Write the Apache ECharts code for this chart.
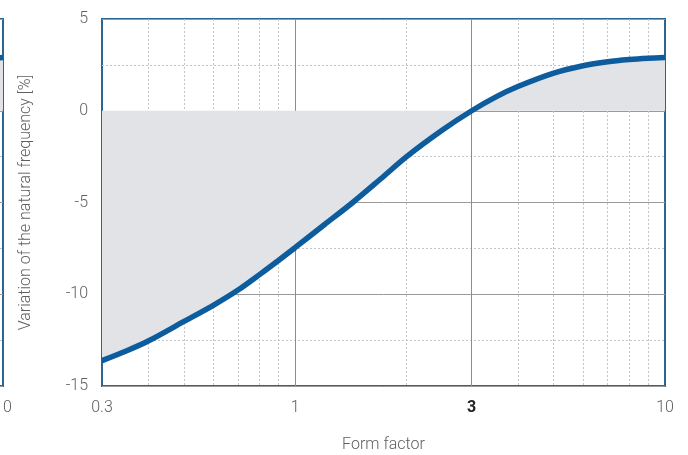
<!DOCTYPE html>
<html>
<head>
<meta charset="utf-8">
<script src="https://cdn.jsdelivr.net/npm/echarts@6/dist/echarts.min.js"></script>
<style>
  html, body { margin: 0; padding: 0; background: #fff; }
  #chart { width: 688px; height: 455px; }
</style>
</head>
<body>
<div id="chart"></div>
<script>
// Form factor (log scale) and the resulting change in natural frequency [%]
const formFactor = [0.3, 0.35, 0.4, 0.5, 0.6, 0.7, 0.8, 0.9, 1, 1.2, 1.43, 1.7, 2, 2.5, 3, 3.5, 4, 5, 6, 7, 8, 9, 10];
const variation = [-13.62, -13.08, -12.55, -11.48, -10.6, -9.77, -8.93, -8.16, -7.45, -6.2, -5.0, -3.72, -2.5, -1.05, 0, 0.77, 1.32, 2.05, 2.45, 2.67, 2.79, 2.86, 2.9];

// Axis ticks
const xLabelTicks = [0.3, 1, 3, 10];
const xMajorGrid = [1, 3];
const xMinorGrid = [0.4, 0.5, 0.6, 0.7, 0.8, 0.9, 2, 4, 5, 6, 7, 8, 9];

const points = formFactor.map((x, i) => [x, variation[i]]);

const FONT = 'Roboto';
const FONT_SIZE = 16;
const TEXT = '#5f5f5f';
const BLUE = '#0d5c9d';
const BORDER = '#2b6692';

function xAxes(gridIndex) {
  return [
    {
      gridIndex, type: 'log', logBase: 10, min: 0.3, max: 10,
      axisLine: { show: false },
      axisTick: { show: false, customValues: xLabelTicks },
      splitLine: { show: false },
      axisLabel: {
        customValues: xLabelTicks, margin: 14, color: TEXT, fontFamily: FONT, fontSize: FONT_SIZE, fontWeight: 300,
        formatter: v => Math.abs(v - 3) < 1e-6 ? '{b|3}' : String(+v.toPrecision(3)),
        rich: { b: { fontWeight: 'bold', color: '#222', fontFamily: FONT, fontSize: FONT_SIZE } }
      },
      name: gridIndex === 0 ? 'Form factor' : '', nameLocation: 'middle', nameGap: 51,
      nameTextStyle: { color: TEXT, fontFamily: FONT, fontSize: FONT_SIZE, fontWeight: 300 }
    },
    {
      gridIndex, type: 'log', logBase: 10, min: 0.3, max: 10,
      axisLine: { show: false },
      axisTick: { show: false, customValues: xMajorGrid },
      axisLabel: { show: false },
      splitLine: { show: true, lineStyle: { color: '#8c8c8c', width: 1 } }
    },
    {
      gridIndex, type: 'log', logBase: 10, min: 0.3, max: 10,
      axisLine: { show: false },
      axisTick: { show: false, customValues: xMinorGrid },
      axisLabel: { show: false },
      splitLine: { show: true, lineStyle: { color: '#c4c4c4', width: 1, type: [2, 2] } }
    }
  ];
}

function yAxis(gridIndex) {
  return {
    gridIndex, type: 'value', min: -15, max: 5, interval: 5,
    axisLine: { show: false },
    axisTick: { show: false },
    axisLabel: { margin: 14, color: TEXT, fontFamily: FONT, fontSize: FONT_SIZE, fontWeight: 300 },
    splitLine: { show: true, lineStyle: { color: '#9a9a9a', width: 1 } },
    minorTick: { show: false, splitNumber: 2 },
    minorSplitLine: { show: true, lineStyle: { color: '#c4c4c4', width: 1, type: [2, 2] } },
    name: gridIndex === 0 ? 'Variation of the natural frequency [%]' : '',
    nameLocation: 'middle', nameGap: 68,
    nameTextStyle: { color: TEXT, fontFamily: FONT, fontSize: FONT_SIZE, fontWeight: 300 }
  };
}

function curve(gridIndex) {
  return {
    type: 'line', xAxisIndex: gridIndex * 3, yAxisIndex: gridIndex,
    data: points, smooth: 0.3, showSymbol: false, z: 5,
    lineStyle: { color: BLUE, width: 5.5 },
    areaStyle: { color: '#e1e3e6', opacity: 1, origin: 0 }
  };
}

const chart = echarts.init(document.getElementById('chart'), null, { renderer: 'canvas' });
chart.setOption({
  animation: false,
  backgroundColor: '#fff',
  grid: [
    { left: 102, top: 19, width: 563, height: 367, outerBoundsMode: 'none', show: true, borderColor: BORDER, borderWidth: 2, backgroundColor: 'transparent' },
    { left: -560, top: 19, width: 563, height: 367, outerBoundsMode: 'none', show: true, borderColor: BORDER, borderWidth: 2, backgroundColor: 'transparent' }
  ],
  xAxis: [...xAxes(0), ...xAxes(1)],
  yAxis: [yAxis(0), yAxis(1)],
  series: [curve(0), curve(1)]
});
</script>
</body>
</html>
